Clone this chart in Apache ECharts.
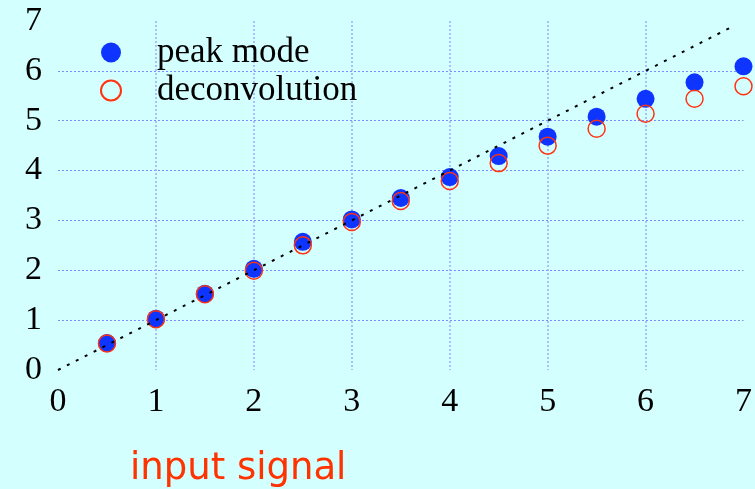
<!DOCTYPE html>
<html>
<head>
<meta charset="utf-8">
<script src="https://cdn.jsdelivr.net/npm/echarts@6/dist/echarts.min.js"></script>
<style>
html,body{margin:0;padding:0;background:#d4ffff;}
#chart{width:755px;height:489px;}
</style>
</head>
<body>
<div id="chart"></div>
<script>
var inputSignal = [0.5, 1.0, 1.5, 2.0, 2.5, 3.0, 3.5, 4.0, 4.5, 5.0, 5.5, 6.0, 6.5, 7.0];
var peakMode = [0.54, 1.03, 1.53, 2.03, 2.57, 3.02, 3.45, 3.87, 4.29, 4.68, 5.08, 5.44, 5.77, 6.09];
var deconvolution = [0.53, 1.02, 1.52, 1.99, 2.50, 2.97, 3.39, 3.79, 4.15, 4.50, 4.84, 5.14, 5.44, 5.69];
var refLine = [[0, 0], [6.9, 6.9]];
var axisTicks = [0, 1, 2, 3, 4, 5, 6, 7];
var seriesNames = ['peak mode', 'deconvolution'];
var axisTitle = 'input signal';

function pairs(xs, ys) { return xs.map(function (x, i) { return [x, ys[i]]; }); }

var chart = echarts.init(document.getElementById('chart'));
var serif = '"Liberation Serif", "Times New Roman", serif';
chart.setOption({
  backgroundColor: '#d4ffff',
  animation: false,
  grid: { left: 58, right: 11, top: 21, bottom: 119 },
  legend: {
    orient: 'vertical',
    left: 100,
    top: 35,
    padding: 0,
    itemWidth: 20,
    itemHeight: 20,
    itemGap: 3,
    data: seriesNames,
    textStyle: { fontFamily: serif, fontSize: 35, color: '#000', padding: [0, 0, 0, 31] }
  },
  xAxis: {
    type: 'value',
    min: axisTicks[0],
    max: axisTicks[axisTicks.length - 1],
    interval: 1,
    axisLine: { show: false },
    axisTick: { show: false },
    axisLabel: { fontFamily: serif, fontSize: 34, color: '#000', margin: 15 },
    splitLine: { show: true, showMinLine: false, showMaxLine: false,
      lineStyle: { color: '#9aaaff', width: 1.5, type: [2, 2] } }
  },
  yAxis: {
    type: 'value',
    min: axisTicks[0],
    max: axisTicks[axisTicks.length - 1],
    interval: 1,
    axisLine: { show: false },
    axisTick: { show: false },
    axisLabel: { fontFamily: serif, fontSize: 34, color: '#000', margin: 16 },
    splitLine: { show: true, showMinLine: false, showMaxLine: false,
      lineStyle: { color: '#7f8cff', width: 1, type: [2, 2] } }
  },
  graphic: [{
    type: 'text',
    left: 130,
    top: 451,
    style: { text: axisTitle, fill: '#ff3300', font: '37px "DejaVu Sans", sans-serif' }
  }],
  series: [
    {
      name: seriesNames[0],
      type: 'scatter',
      symbol: 'circle',
      symbolSize: 18,
      itemStyle: { color: '#0d35ff', opacity: 1 },
      data: pairs(inputSignal, peakMode),
      z: 2
    },
    {
      name: seriesNames[1],
      type: 'scatter',
      symbol: 'circle',
      symbolSize: 17,
      itemStyle: { color: 'rgba(0,0,0,0)', borderColor: '#ff3311', borderWidth: 1.5, opacity: 1 },
      data: pairs(inputSignal, deconvolution),
      z: 3
    },
    {
      type: 'line',
      data: refLine,
      symbol: 'none',
      silent: true,
      lineStyle: { color: '#000', width: 2, type: [3, 7] },
      z: 4
    }
  ]
});
</script>
</body>
</html>
